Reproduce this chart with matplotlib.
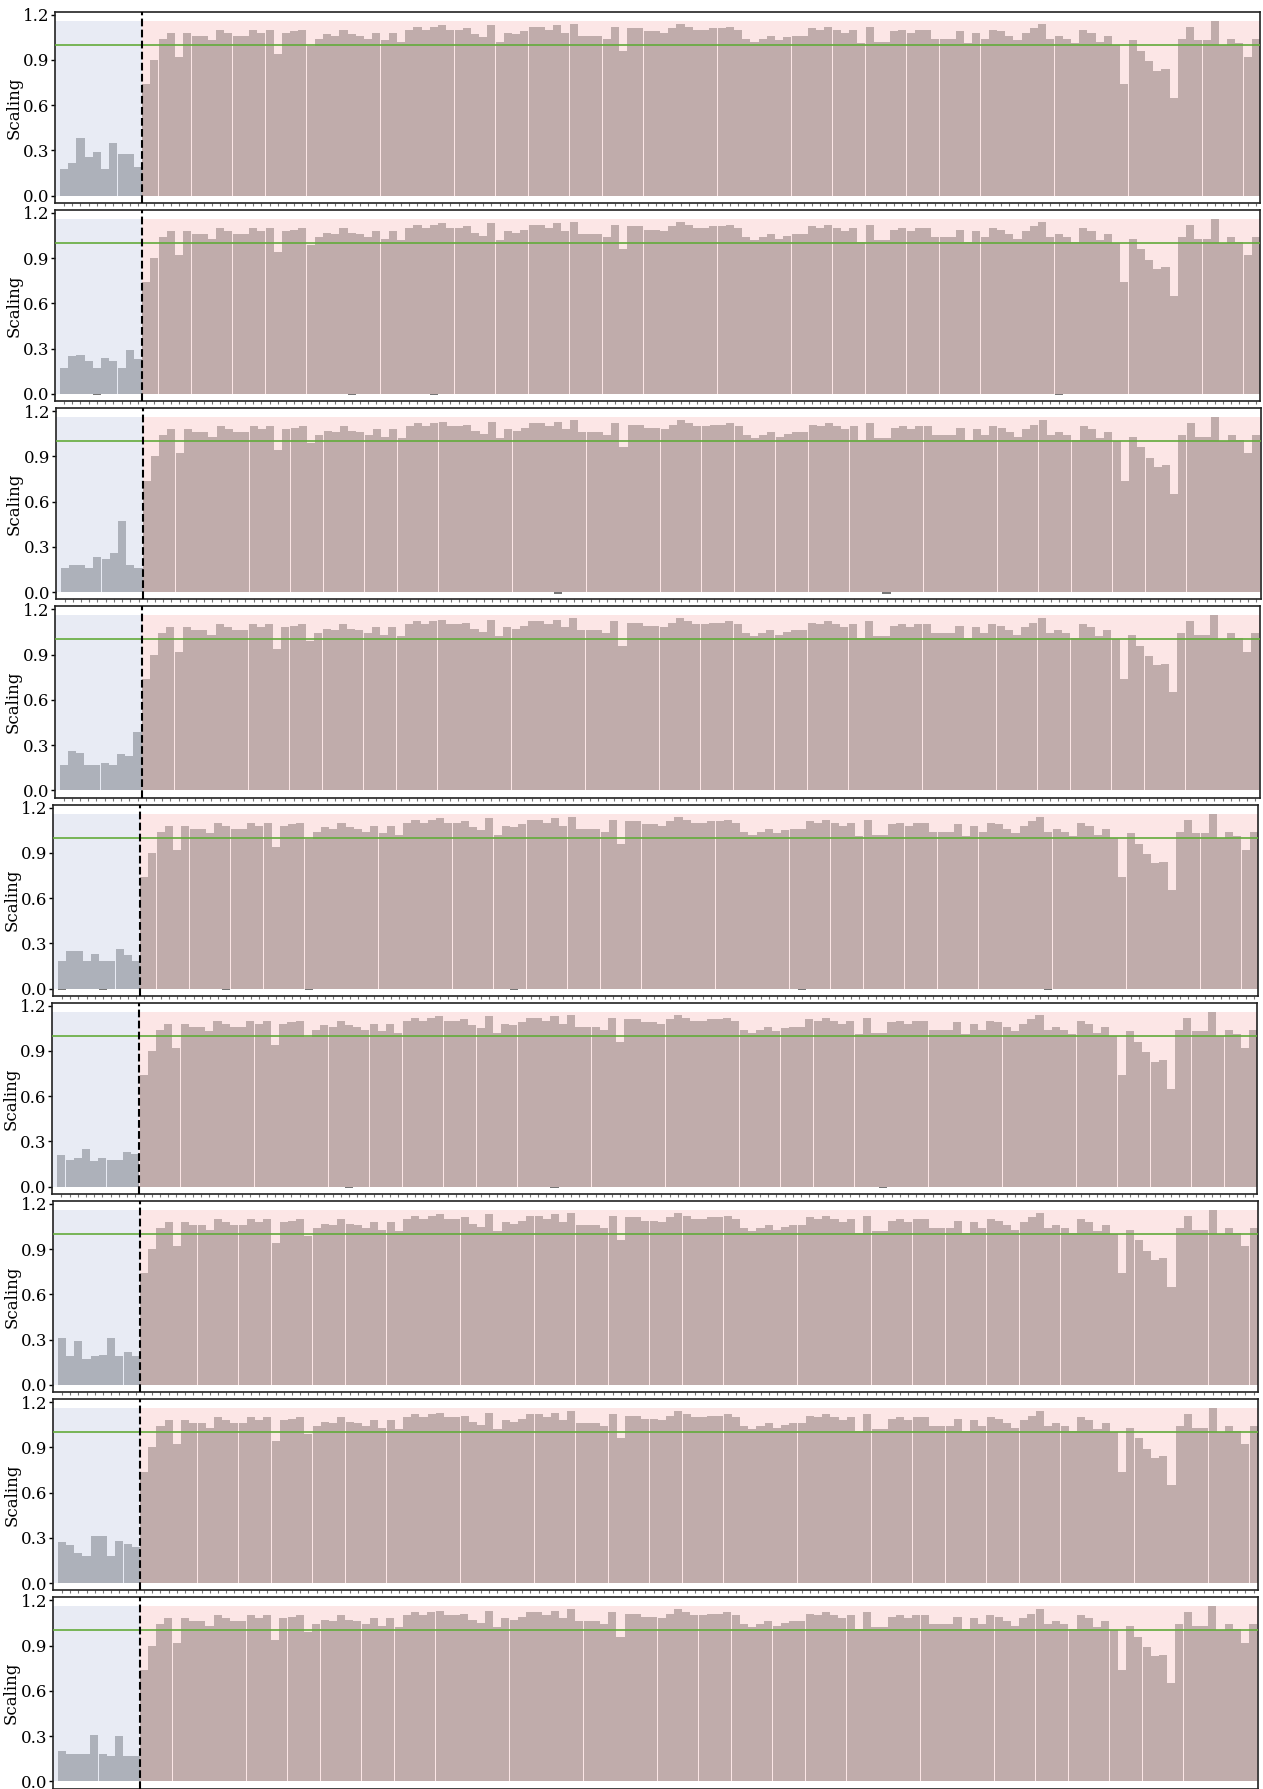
import matplotlib
matplotlib.use("Agg")
import matplotlib.pyplot as plt
import numpy as np

plt.rcParams['font.family'] = ['DejaVu Serif']

# scaling values left of the dashed line, one list per panel
pre_1 = [0.18, 0.22, 0.38, 0.26, 0.29, 0.18, 0.35, 0.28, 0.28, 0.19]
pre_2 = [0.17, 0.25, 0.26, 0.22, 0.17, 0.24, 0.22, 0.17, 0.29, 0.23]
pre_3 = [0.16, 0.18, 0.18, 0.16, 0.23, 0.22, 0.26, 0.47, 0.18, 0.16]
pre_4 = [0.17, 0.26, 0.25, 0.17, 0.17, 0.18, 0.17, 0.24, 0.23, 0.39]
pre_5 = [0.18, 0.25, 0.25, 0.18, 0.23, 0.18, 0.18, 0.26, 0.22, 0.18]
pre_6 = [0.21, 0.18, 0.19, 0.25, 0.17, 0.19, 0.18, 0.18, 0.23, 0.22]
pre_7 = [0.31, 0.19, 0.29, 0.17, 0.19, 0.20, 0.31, 0.19, 0.22, 0.19]
pre_8 = [0.27, 0.25, 0.20, 0.18, 0.31, 0.31, 0.18, 0.28, 0.26, 0.24]
pre_9 = [0.20, 0.18, 0.18, 0.18, 0.31, 0.18, 0.17, 0.30, 0.17, 0.17]

# scaling values right of the dashed line (nearly identical in every panel)
post = [0.74, 0.90, 1.04, 1.08, 0.92, 1.08, 1.06, 1.06, 1.03, 1.10,
        1.08, 1.06, 1.06, 1.10, 1.08, 1.10, 0.94, 1.08, 1.09, 1.10,
        0.99, 1.04, 1.07, 1.06, 1.10, 1.07, 1.06, 1.04, 1.08, 1.03,
        1.08, 1.02, 1.10, 1.12, 1.10, 1.12, 1.13, 1.10, 1.10, 1.11,
        1.07, 1.05, 1.13, 1.02, 1.08, 1.07, 1.09, 1.12, 1.12, 1.10,
        1.13, 1.08, 1.14, 1.06, 1.06, 1.06, 1.04, 1.12, 0.96, 1.11,
        1.11, 1.09, 1.09, 1.08, 1.11, 1.14, 1.12, 1.10, 1.10, 1.11,
        1.11, 1.12, 1.10, 1.04, 1.02, 1.04, 1.06, 1.03, 1.05, 1.06,
        1.06, 1.11, 1.10, 1.12, 1.10, 1.08, 1.10, 1.01, 1.12, 1.02,
        1.02, 1.09, 1.10, 1.08, 1.10, 1.10, 1.04, 1.04, 1.04, 1.09,
        1.01, 1.08, 1.04, 1.10, 1.09, 1.06, 1.03, 1.08, 1.11, 1.14,
        1.04, 1.06, 1.04, 1.01, 1.10, 1.08, 1.02, 1.06, 1.00, 0.74,
        1.03, 0.96, 0.89, 0.83, 0.84, 0.65, 1.04, 1.12, 1.03, 1.03,
        1.16, 1.00, 1.04, 1.01, 0.92, 1.04]

# small negative offsets seen under the zero line
neg_idx = [[], [4, 35, 45, 121], [60, 100], [], [0, 5, 20, 30, 55, 90, 120], [35, 60, 100], [], [], []]
neg_val = -0.01

pre_all = [pre_1, pre_2, pre_3, pre_4, pre_5, pre_6, pre_7, pre_8, pre_9]

# layout in pixels (figure is 1263 x 1789)
W, H = 1263, 1789
lefts = [55, 55, 55.5, 54.5, 53, 52.3, 52.8, 52.8, 52.5]
ax_w = 1205
top0 = 11.7
pitch = 198.2
ax_h = 191.3

fig = plt.figure(figsize=(W / 100, H / 100), dpi=100)

n_pre = len(pre_1)
for i, pre in enumerate(pre_all):
    vals = np.array(pre + post)
    n = len(vals)
    x = np.arange(n)
    top = top0 + pitch * i
    ax = fig.add_axes([lefts[i] / W, 1 - (top + ax_h) / H, ax_w / W, ax_h / H])

    xmin, xmax = -1.1, n - 0.5
    vmax = vals.max()
    split = n_pre - 0.5
    ax.fill_between([xmin, split], 0, vmax, color='#e8ebf4', lw=0, zorder=0)
    ax.fill_between([split, xmax], 0, vmax, color='#fce6e6', lw=0, zorder=0)

    colors = ['#adb1ba'] * n_pre + ['#c0acab'] * (n - n_pre)
    ax.bar(x, vals, width=0.98, color=colors, lw=0, zorder=1)
    if neg_idx[i]:
        ax.bar(neg_idx[i], [neg_val] * len(neg_idx[i]), width=0.98, color='#777777', lw=0, zorder=1)

    ax.axhline(1.0, color='#63ab3b', lw=1.2, zorder=3)
    ax.axvline(split, color='black', ls='--', lw=1.5, zorder=4)

    ax.set_xlim(xmin, xmax)
    ax.set_ylim(-0.048, 1.22)
    ax.set_yticks([0.0, 0.3, 0.6, 0.9, 1.2])
    ax.set_yticklabels(['0.0', '0.3', '0.6', '0.9', '1.2'], fontsize=12)
    ax.set_xticks(x)
    ax.set_xticklabels([])
    ax.tick_params(axis='x', length=2, width=0.8, color='#777777', direction='out')
    ax.tick_params(axis='y', length=3, width=1, pad=1)
    ax.set_ylabel('Scaling', fontsize=12)
    ax.yaxis.set_label_coords(-0.027, 0.5)
    for s in ax.spines.values():
        s.set_linewidth(1.2)
        s.set_color('#222222')

fig.savefig('out.png', dpi=100)
